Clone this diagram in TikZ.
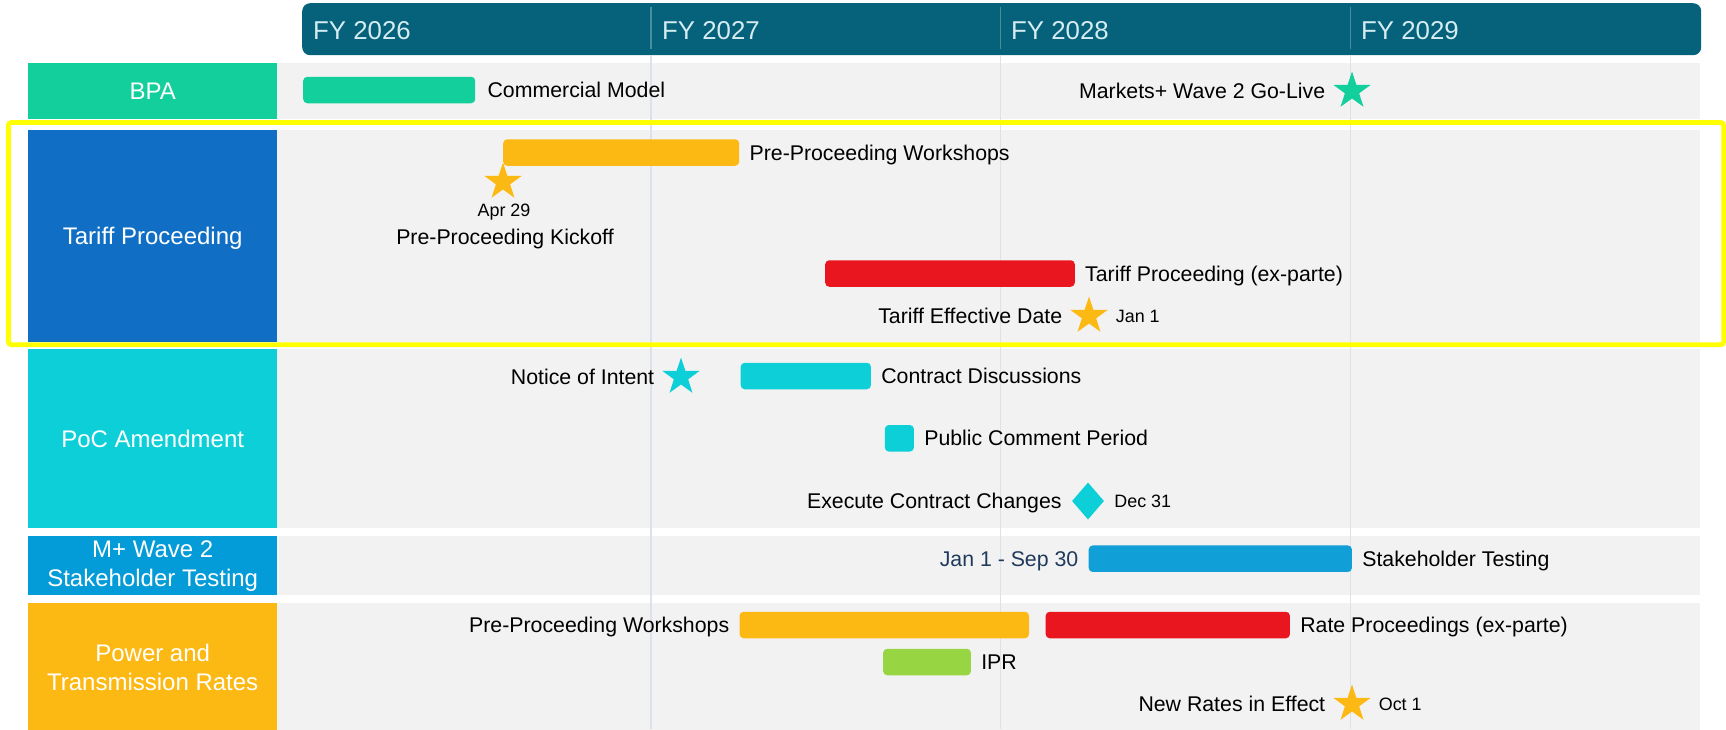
\documentclass[tikz,border=0pt]{standalone}
\usepackage{fontspec}
\setmainfont{Liberation Sans}
\usetikzlibrary{positioning,shapes.geometric}

\definecolor{headteal}{HTML}{05627A}
\definecolor{headline}{HTML}{4A8DA1}
\definecolor{headtext}{HTML}{D5ECF3}
\definecolor{rowgray}{HTML}{F2F2F2}
\definecolor{gridline}{HTML}{DCE2EC}
\definecolor{bpagreen}{HTML}{12CF9C}
\definecolor{tariffblue}{HTML}{106FC5}
\definecolor{poccyan}{HTML}{0DCFD8}
\definecolor{waveblue}{HTML}{039BD8}
\definecolor{rateorange}{HTML}{FDB913}
\definecolor{barred}{HTML}{E9161F}
\definecolor{barblue}{HTML}{109FD6}
\definecolor{iprgreen}{HTML}{97D543}
\definecolor{datenavy}{HTML}{203A5C}
\definecolor{focusyellow}{HTML}{FFFF00}

\newcommand{\tagfont}{\fontsize{21.3}{25}\selectfont}
\newcommand{\notefont}{\fontsize{17.9}{21}\selectfont}
\newcommand{\yrfont}{\fontsize{25.8}{31}\selectfont}
\newcommand{\lanefont}{\fontsize{24}{29}\selectfont}

\begin{document}
\begin{tikzpicture}[x=1pt, y=-1pt, node distance=10pt,
  lane/.style={fill=#1, text=white, font=\lanefont, align=center, minimum width=249pt, inner sep=0pt, anchor=north west},
  bar/.style={fill=#1, rounded corners=4pt, minimum height=26.5pt, inner sep=0pt, anchor=west},
  tag/.style={font=\tagfont, inner sep=0pt, text height=15.2pt, text depth=0pt},
  note/.style={font=\notefont, inner sep=0pt, text height=12.8pt, text depth=0pt},
  yr/.style={font=\yrfont, text=headtext, inner sep=0pt, text height=18.5pt, text depth=0pt, anchor=west},
  ms/.style={fill=#1, star, star points=5, star point ratio=2.6, minimum size=39pt, inner sep=0pt},
  gate/.style={fill=#1, diamond, minimum width=32pt, minimum height=37pt, inner sep=0pt}]
\useasboundingbox (0,0) rectangle (1726,729);

% lanes
\fill[rowgray] (277,63) rectangle (1700,119);
\fill[rowgray] (277,130) rectangle (1700,342);
\fill[rowgray] (277,349) rectangle (1700,528);
\fill[rowgray] (277,536) rectangle (1700,595);
\fill[rowgray] (277,603) rectangle (1700,732);
\node[lane=bpagreen, minimum height=56pt] (bpa) at (28,63) {BPA};
\node[lane=tariffblue, minimum height=212pt, text height=17.2pt, text depth=0pt] (tariff) at (28,130) {Tariff Proceeding};
\node[lane=poccyan, minimum height=179pt] (poc) at (28,349) {PoC Amendment};
\node[lane=waveblue, minimum height=59pt] (wave) at (28,536) {M+ Wave 2\\Stakeholder Testing};
\node[lane=rateorange, minimum height=129pt] (rates) at (28,603) {Power and\\Transmission Rates};

% fiscal years
\node[fill=headteal, rounded corners=8pt, minimum width=1399pt, minimum height=52pt, inner sep=0pt, anchor=north west] (head) at (302,3) {};
\foreach \x in {651,1000.5,1350.5} {
  \draw[headline, line width=1.3pt] (\x,7) -- (\x,49);
  \draw[gridline, line width=1.5pt] (\x,55) -- (\x,729);
}
\foreach \yr/\x in {2026/313,2027/662,2028/1011,2029/1361}
  \node[yr] (fy\yr) at (\x,30) {FY \yr};

% BPA
\node[bar=bpagreen, minimum width=172pt] (cmbar) at (303,90) {};
\node[tag, right=12pt of cmbar] (cmtxt) {Commercial Model};
\node[ms=bpagreen] (golive) at (1352,91) {};
\node[tag, left=16pt of golive] (golivetxt) {Markets+ Wave 2 Go-Live};

% Tariff Proceeding
\node[bar=rateorange, minimum width=236pt] (wsbar) at (503,152.5) {};
\node[tag, right=of wsbar] (wstxt) {Pre-Proceeding Workshops};
\node[ms=rateorange] (kickoff) at (503,182) {};
\node[note] (kodate) at (504,210) {Apr 29};
\node[tag] (kotxt) at (505,237) {Pre-Proceeding Kickoff};
\node[bar=barred, minimum width=249.6pt] (tpbar) at (825,273.5) {};
\node[tag, right=of tpbar] (tptxt) {Tariff Proceeding (ex-parte)};
\node[ms=rateorange] (effective) at (1089,316) {};
\node[tag, left=16pt of effective] (efftxt) {Tariff Effective Date};
\node[note, right=16pt of effective] (effdate) {Jan 1};

% PoC Amendment
\node[ms=poccyan] (notice) at (681,377) {};
\node[tag, left=16pt of notice] (noticetxt) {Notice of Intent};
\node[bar=poccyan, minimum width=130.2pt] (cdbar) at (740.5,376) {};
\node[tag, right=of cdbar] (cdtxt) {Contract Discussions};
\node[bar=poccyan, minimum width=29.1pt] (pcbar) at (884.6,438.3) {};
\node[tag, right=of pcbar] (pctxt) {Public Comment Period};
\node[gate=poccyan] (execute) at (1088,501) {};
\node[tag, left=of execute] (exectxt) {Execute Contract Changes};
\node[note, right=of execute] (execdate) {Dec 31};

% M+ Wave 2
\node[bar=barblue, minimum width=263.2pt] (stbar) at (1088.5,558.7) {};
\node[tag, text=datenavy, left=of stbar] (stdate) {Jan 1 - Sep 30};
\node[tag, right=of stbar] (sttxt) {Stakeholder Testing};

% Power and Transmission Rates
\node[bar=rateorange, minimum width=289.4pt] (pwbar) at (739.4,625) {};
\node[tag, left=of pwbar] (pwtxt) {Pre-Proceeding Workshops};
\node[bar=barred, minimum width=244.2pt] (rpbar) at (1045.5,625) {};
\node[tag, right=of rpbar] (rptxt) {Rate Proceedings (ex-parte)};
\node[bar=iprgreen, minimum width=87.7pt] (iprbar) at (883,662) {};
\node[tag, right=of iprbar] (iprtxt) {IPR};
\node[ms=rateorange] (newrates) at (1352,704) {};
\node[tag, left=16pt of newrates] (newtxt) {New Rates in Effect};
\node[note, right=16pt of newrates] (newdate) {Oct 1};

% focus frame
\draw[focusyellow, line width=4.7pt, rounded corners=3pt] (8.4,122.4) rectangle (1723.6,344.8);
\end{tikzpicture}
\end{document}
